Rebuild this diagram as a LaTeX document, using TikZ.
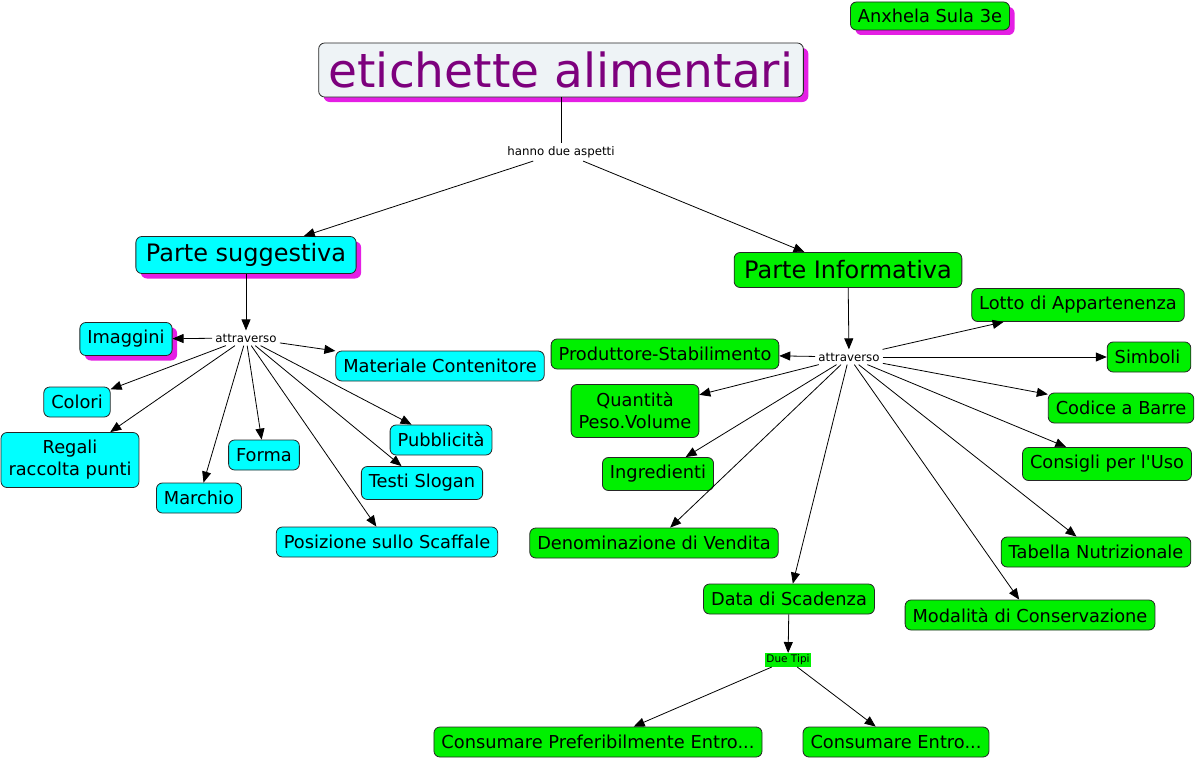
\documentclass[tikz,border=0pt]{standalone}
\usepackage{fontspec}
\setmainfont{DejaVu Sans}
\usetikzlibrary{arrows.meta,shadows}
\definecolor{mapcyan}{RGB}{0,255,255}
\definecolor{mapgreen}{RGB}{0,240,0}
\definecolor{mappink}{RGB}{228,30,228}
\definecolor{mappurple}{RGB}{125,0,125}
\definecolor{mapgrey}{RGB}{238,243,246}

\begin{document}
\begin{tikzpicture}[x=1pt, y=-1pt, >={Triangle[length=11pt,width=9pt]},
  every node/.style={draw=black!85, line width=0.8pt, rounded corners=6pt, inner xsep=7.5pt, inner ysep=4pt,
    minimum height=30pt, align=center, font=\fontsize{17.8}{22}\selectfont},
  sug/.style={fill=mapcyan},
  info/.style={fill=mapgreen},
  big/.style={font=\fontsize{24}{28}\selectfont, inner xsep=10pt, minimum height=37pt},
  shad/.style={drop shadow={fill=mappink, opacity=1, shadow xshift=5pt, shadow yshift=-5pt}},
  link/.style={draw=none, rounded corners=0pt, inner sep=3pt, minimum height=0pt, font=\fontsize{11.8}{14}\selectfont},
  every edge/.style={draw, line width=0.8pt}]
  \useasboundingbox (0,0) rectangle (1198,760);
  % top
  \node (author) [info, shad, minimum height=28pt] at (930,16) {Anxhela Sula 3e};
  \node (title) [fill=mapgrey, shad, text=mappurple, font=\fontsize{47}{50}\selectfont, inner xsep=10pt, inner ysep=1pt, minimum height=54pt] at (561,70) {etichette alimentari};
  \node (aspetti) [link] at (561,152) {hanno due aspetti};
  \node (suggestiva) [sug, big, shad] at (246,255) {Parte suggestiva};
  \node (informativa) [info, big, minimum height=35pt] at (848,270) {Parte Informativa};
  \draw (title) -- (aspetti);
  \draw[->] (aspetti) edge (suggestiva);
  \draw[->] (aspetti) edge (informativa);
  % parte suggestiva
  \node (attrS) [link] at (246,338) {attraverso};
  \node (imaggini) [sug, shad, minimum height=33pt] at (126,339) {Imaggini};
  \node (materiale) [sug] at (440,366) {Materiale Contenitore};
  \node (colori) [sug] at (77,402) {Colori};
  \node (regali) [sug, minimum height=55pt] at (70,460) {Regali\\raccolta punti};
  \node (marchio) [sug] at (199,498) {Marchio};
  \node (forma) [sug] at (264,455) {Forma};
  \node (pubblicita) [sug] at (441,440) {Pubblicità};
  \node (testi) [sug, minimum height=33pt] at (422,483) {Testi Slogan};
  \node (posizione) [sug] at (387,542) {Posizione sullo Scaffale};
  \draw[->] (suggestiva) edge (attrS);
  \draw[->] (attrS) edge (imaggini);
  \draw[->] (attrS) edge (materiale);
  \draw[->] (attrS) edge (colori);
  \draw[->] (attrS) edge (regali);
  \draw[->] (attrS) edge (marchio);
  \draw[->] (attrS) edge (forma);
  \draw[->] (attrS) edge (pubblicita);
  \draw[->] (attrS) edge (testi);
  \draw[->] (attrS) edge (posizione);
  % parte informativa
  \node (attrI) [link] at (849,357) {attraverso};
  \node (produttore) [info] at (665,354) {Produttore-Stabilimento};
  \node (lotto) [info, minimum height=33pt] at (1078,305) {Lotto di Appartenenza};
  \node (simboli) [info] at (1149,357) {Simboli\,};
  \node (quantita) [info, minimum height=53pt] at (635,411) {Quantità\\Peso.Volume};
  \node (codice) [info] at (1121,408) {Codice a Barre};
  \node (consigli) [info, minimum height=33pt] at (1107,464) {Consigli per l\textquotesingle Uso};
  \node (ingredienti) [info, minimum height=33pt] at (658,474) {Ingredienti};
  \node (denominazione) [info] at (654,543) {Denominazione di Vendita};
  \node (tabella) [info] at (1096,552) {Tabella Nutrizionale};
  \node (scadenza) [info] at (789,599) {Data di Scadenza};
  \node (modalita) [info] at (1030,615) {Modalità di Conservazione};
  \draw[->] (informativa) edge (attrI);
  \draw[->] (attrI) edge (produttore);
  \draw[->] (attrI) edge (lotto);
  \draw[->] (attrI) edge (simboli);
  \draw[->] (attrI) edge (quantita);
  \draw[->] (attrI) edge (codice);
  \draw[->] (attrI) edge (consigli);
  \draw[->] (attrI) edge (ingredienti);
  \draw[->] (attrI) edge (denominazione);
  \draw[->] (attrI) edge (tabella);
  \draw[->] (attrI) edge (scadenza);
  \draw[->] (attrI) edge (modalita);
  % data di scadenza
  \node (tipi) [link, fill=mapgreen, inner sep=1.5pt, font=\fontsize{10.5}{12}\selectfont] at (788,660) {Due Tipi};
  \node (preferibilmente) [info] at (598,742) {Consumare Preferibilmente Entro...};
  \node (entro) [info] at (896,742) {Consumare Entro...};
  \draw[->] (scadenza) edge (tipi);
  \draw[->] (tipi) edge (preferibilmente);
  \draw[->] (tipi) edge (entro);
\end{tikzpicture}
\end{document}
